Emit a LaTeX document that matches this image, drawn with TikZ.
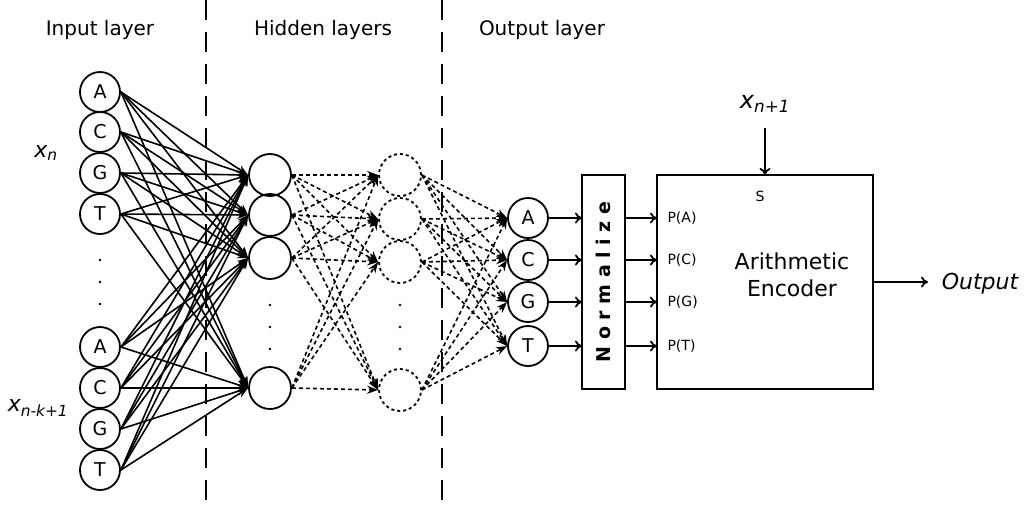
\documentclass[tikz,border=0pt]{standalone}
\usepackage{fontspec}
\setmainfont{DejaVu Sans}
\usetikzlibrary{arrows.meta}
\begin{document}
\begin{tikzpicture}[x=1pt,y=-1pt,
 inn/.style={circle,draw,line width=1.8pt,minimum size=40pt,inner sep=0pt,font=\fontsize{19}{19}\selectfont},
 hid/.style={circle,draw,line width=1.8pt,minimum size=42pt,inner sep=0pt},
 dhid/.style={hid,dashed},
 sol/.style={line width=1.6pt,-{Stealth[length=11pt,width=8pt]}},
 dsh/.style={line width=1.6pt,dash pattern=on 4pt off 3pt,-{Stealth[length=11pt,width=8pt]}},
 arr/.style={line width=1.8pt,-{To[length=7pt,width=11pt]}},
 lbl/.style={font=\fontsize{20}{20}\selectfont}]
\useasboundingbox (0,0) rectangle (1024,504);
\draw[line width=1.8pt,dash pattern=on 20pt off 12pt] (206,0) -- (206,504) (442,0) -- (442,504);
\node[lbl] (h1) at (100,30) {Input layer};
\node[lbl] (h2) at (323,30) {Hidden layers};
\node[lbl] (h3) at (542,30) {Output layer};
\node[lbl,font=\fontsize{22}{22}\selectfont] (xn) at (46,153) {\itshape x\textsubscript{\itshape n}};
\node[lbl,font=\fontsize{22}{22}\selectfont] (xk) at (38,408) {\itshape x\textsubscript{\itshape n-k+1}};
\foreach \n/\l/\y in {i1/A/92,i2/C/132,i3/G/173,i4/T/214,i5/A/347,i6/C/388,i7/G/429,i8/T/470}
  \node[inn] (\n) at (100,\y) {\l};
\foreach \n/\y in {a1/175,a2/215,a3/258,a4/388} \node[hid] (\n) at (270,\y) {};
\foreach \n/\y in {b1/175,b2/219,b3/262,b4/390} \node[dhid] (\n) at (400,\y) {};
\foreach \n/\l/\y in {o1/A/218,o2/C/260,o3/G/302,o4/T/346} \node[inn] (\n) at (528,\y) {\l};
\foreach \x/\ys in {100/260,270/305,400/305} {
  \foreach \d in {0,22,44} \fill (\x,\ys+\d) circle (1.3pt);}
\foreach \i in {i1,i2,i3,i4,i5,i6,i7,i8} \foreach \a in {a1,a2,a3,a4} \draw[sol] (\i.east) -- (\a.west);
\foreach \a in {a1,a2,a3,a4} \foreach \b in {b1,b2,b3,b4} \draw[dsh] (\a.east) -- (\b.west);
\foreach \b in {b1,b2,b3,b4} \foreach \o in {o1,o2,o3,o4} \draw[dsh] (\b.east) -- (\o.west);
\node[draw,line width=1.8pt,minimum width=43pt,minimum height=214pt,inner sep=0pt] (nm) at (603.5,282) {};
\node[rotate=90,font=\bfseries\fontsize{19}{19}\selectfont] (nt) at (603.5,282) {N o r m a l i z e};
\node[draw,line width=1.8pt,minimum width=216pt,minimum height=214pt,inner sep=0pt] (enc) at (765,282) {};
\foreach \o/\y/\p in {o1/218/A,o2/260/C,o3/302/G,o4/346/T} {
  \draw[arr] (\o) -- (582,\y);
  \coordinate (e\p) at (657,\y);
  \draw[arr] (625,\y) -- (e\p);
  \node[anchor=west,font=\fontsize{14}{14}\selectfont] (p\p) at (664,\y) {P(\p)};}
\node[font=\fontsize{14}{14}\selectfont] (s) at (760,196) {S};
\node[font=\fontsize{22}{27}\selectfont,align=center] (ae) at (792,275) {Arithmetic\\Encoder};
\node[font=\fontsize{24}{24}\selectfont] (xn1) at (765,104) {\itshape x\textsubscript{\itshape n+1}};
\coordinate (top) at (765,175);
\draw[arr] (765,128) -- (top);
\coordinate (outc) at (928,282);
\draw[arr] (873,282) -- (outc);
\node[font=\itshape\fontsize{22}{22}\selectfont] (out) at (980,284) {Output};
\end{tikzpicture}
\end{document}
